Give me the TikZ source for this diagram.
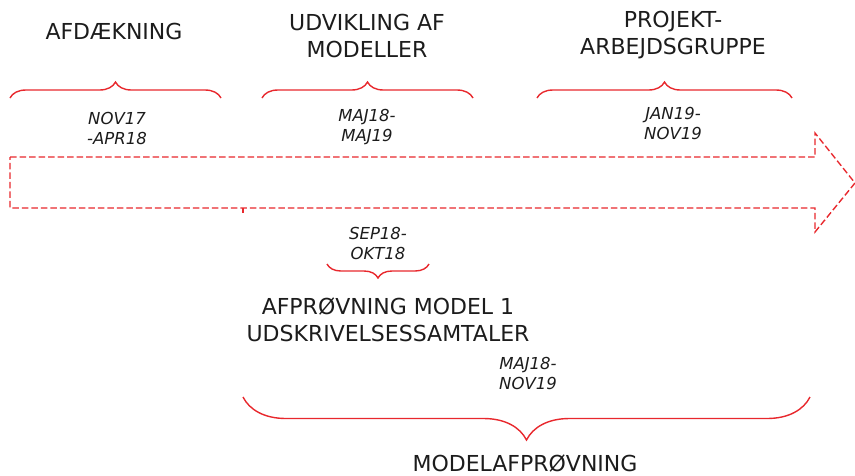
\documentclass[tikz,border=0pt]{standalone}
\usepackage{fontspec}
\setmainfont{DejaVu Sans}
\usetikzlibrary{decorations.pathreplacing}

\definecolor{tlred}{RGB}{232,40,45}
\definecolor{tltext}{RGB}{28,28,28}

\begin{document}
\begin{tikzpicture}[x=1pt, y=-1pt,
    every node/.style={inner sep=0pt, align=center, text=tltext},
    titel/.style={font=\fontsize{22}{27}\selectfont},
    dato/.style={font=\fontsize{16.5}{20}\selectfont\itshape},
    klamme/.style={draw=tlred, line width=1.4pt, decorate,
        decoration={brace, amplitude=#1}}]
    \useasboundingbox (0,0) rectangle (855,475);

    % Pil
    \draw[tlred, line width=1.4pt, dash pattern=on 6.5pt off 3pt]
        (10,157) -- (815,157) -- (815,133) -- (855,183) -- (815,232)
        -- (815,208) -- (10,208) -- cycle;
    \draw[tlred, line width=1.4pt] (243,208) -- (243,213);

    % Tekster
    \node[titel] (afd) at (114,31) {AFDÆKNING};
    \node[titel] (udv) at (367,35.5) {UDVIKLING AF\\MODELLER};
    \node[titel] (proj) at (673,35.5) {PROJEKT-\\ARBEJDSGRUPPE};
    \node[dato] (dafd) at (117,128) {NOV17\\-APR18};
    \node[dato] (dudv) at (367,127) {MAJ18-\\MAJ19};
    \node[dato] (dproj) at (673,123) {JAN19-\\NOV19};
    \node[dato] (dsep) at (378,243) {SEP18-\\OKT18};
    \node[titel] (afp) at (388,320) {AFPRØVNING MODEL 1\\UDSKRIVELSESSAMTALER};
    \node[dato] (dmod) at (528,373) {MAJ18-\\NOV19};
    \node[titel] (mod) at (525,463) {MODELAFPRØVNING};

    % Klammer
    \coordinate (k1a) at (10,98);   \coordinate (k1b) at (221,98);
    \coordinate (k2a) at (262,98);  \coordinate (k2b) at (473,98);
    \coordinate (k3a) at (537,98);  \coordinate (k3b) at (792,98);
    \coordinate (k4a) at (429,264); \coordinate (k4b) at (327,264);
    \coordinate (k5a) at (810,397); \coordinate (k5b) at (243,397);
    \draw[klamme=16] (k1a) -- (k1b);
    \draw[klamme=16] (k2a) -- (k2b);
    \draw[klamme=16] (k3a) -- (k3b);
    \draw[klamme=14] (k4a) -- (k4b);
    \draw[klamme=43] (k5a) -- (k5b);
\end{tikzpicture}
\end{document}
